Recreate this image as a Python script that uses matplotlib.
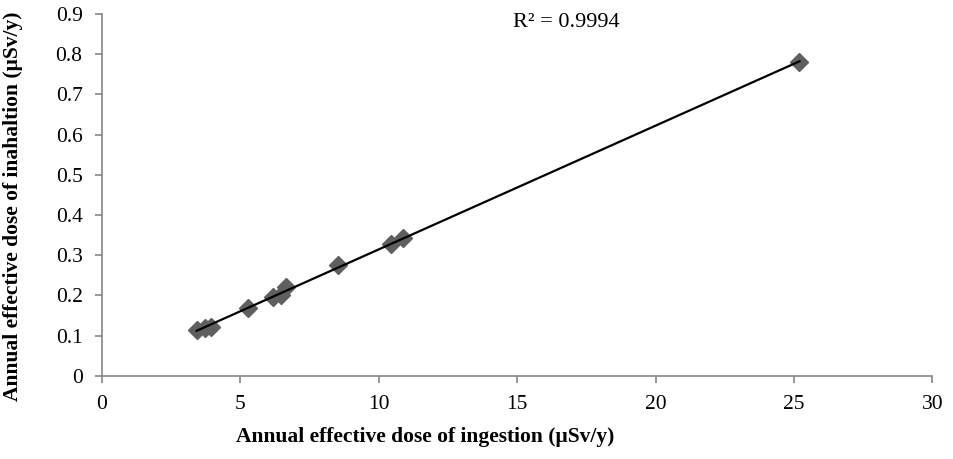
import matplotlib.pyplot as plt
import numpy as np

# annual effective dose (uSv/y)
ingestion = [3.42, 3.72, 3.95, 5.27, 6.17, 6.47, 6.65, 8.52, 10.45, 10.87, 25.2]
inhalation = [0.113, 0.118, 0.122, 0.168, 0.197, 0.201, 0.222, 0.275, 0.329, 0.342, 0.78]
r2_label = "R² = 0.9994"

plt.rcParams["font.family"] = ["Liberation Serif", "DejaVu Serif"]

fig = plt.figure(figsize=(9.54, 4.59), dpi=100)
ax = fig.add_axes([0.1069, 0.181, 0.8704, 0.7885])

# linear trendline over the data range
x = np.array(ingestion)
y = np.array(inhalation)
slope, icpt = np.polyfit(x, y, 1)
xs = np.array([x.min(), x.max()])
ax.plot(xs, slope * xs + icpt, color="black", lw=1.6, zorder=3)

ax.plot(x, y, ls="none", marker="D", ms=9, color="#5f5f5f", zorder=2)

ax.text(14.85, 0.878, r2_label, fontsize=16, va="center", ha="left")

ax.set_xlim(0, 30)
ax.set_ylim(0, 0.9)
ax.set_xticks(np.arange(0, 31, 5))
ax.set_yticks(np.arange(0, 0.91, 0.1))
ax.set_yticklabels(["0"] + [f"{v:.1f}" for v in np.arange(0.1, 0.91, 0.1)])

for side in ("top", "right"):
    ax.spines[side].set_visible(False)
for side in ("left", "bottom"):
    ax.spines[side].set_color("#868686")
    ax.spines[side].set_linewidth(1.2)
ax.tick_params(direction="out", length=5, width=1.2, color="#868686",
               labelsize=15.5)
ax.tick_params(axis="y", pad=9)
ax.tick_params(axis="x", pad=9)

ax.set_xlabel("Annual effective dose of ingestion (μSv/y)", fontsize=15.5,
              fontweight="bold")
ax.set_ylabel("Annual effective dose of inahaltion (μSv/y)", fontsize=15.5,
              fontweight="bold")
ax.xaxis.set_label_coords(0.389, -0.14)
ax.yaxis.set_label_coords(-0.095, 0.47)

fig.savefig("out.png", dpi=100)
